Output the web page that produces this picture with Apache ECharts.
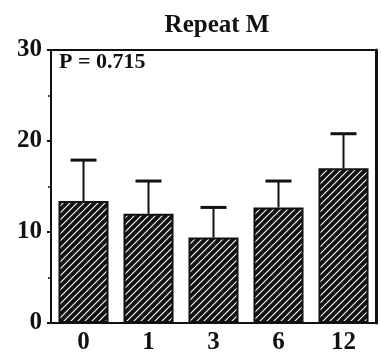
<!DOCTYPE html>
<html>
<head>
<meta charset="utf-8">
<script src="https://cdn.jsdelivr.net/npm/echarts@6/dist/echarts.min.js"></script>
<style>
  html, body { margin: 0; padding: 0; background: #fff; }
  #chart { width: 381px; height: 356px; }
</style>
</head>
<body>
<div id="chart"></div>
<script>
// Months after baseline and the mean value with its upper error limit
const months = ['0', '1', '3', '6', '12'];
const means = [13.4, 12.0, 9.4, 12.7, 17.0];
const upper = [17.9, 15.6, 12.7, 15.6, 20.8];
const yTicks = [0, 10, 20, 30];
const titleText = 'Repeat M';
const pText = 'P = 0.715';

const INK = '#111';
const SERIF = '"Liberation Serif", "Times New Roman", serif';

// Black fill with white "/" hatching
function hatch() {
  const s = 7;
  const c = document.createElement('canvas');
  c.width = s; c.height = s;
  const g = c.getContext('2d');
  g.fillStyle = INK;
  g.fillRect(0, 0, s, s);
  g.strokeStyle = '#fff';
  g.lineWidth = 1.1;
  g.beginPath();
  g.moveTo(0, s); g.lineTo(s, 0);
  g.moveTo(-1, 1); g.lineTo(1, -1);
  g.moveTo(s - 1, s + 1); g.lineTo(s + 1, s - 1);
  g.stroke();
  return c;
}

const chart = echarts.init(document.getElementById('chart'), null, { renderer: 'canvas' });

chart.setOption({
  animation: false,
  backgroundColor: '#fff',
  title: {
    text: titleText,
    left: 212,
    textAlign: 'center',
    top: 8,
    textStyle: { fontFamily: SERIF, fontWeight: 'bold', fontSize: 25, color: INK }
  },
  grid: { left: 51, right: 5, top: 50, bottom: 33 },
  xAxis: [{
    type: 'category',
    data: months,
    axisLine: { lineStyle: { color: INK, width: 2 } },
    axisTick: { show: false },
    axisLabel: { margin: 7, fontFamily: SERIF, fontWeight: 'bold', fontSize: 25, color: INK }
  }, {
    type: 'category',
    data: months,
    position: 'top',
    axisLine: { show: true, onZero: false, lineStyle: { color: INK, width: 2 } },
    axisTick: { show: false },
    axisLabel: { show: false }
  }],
  yAxis: [{
    type: 'value',
    min: yTicks[0],
    max: yTicks[yTicks.length - 1],
    interval: 10,
    splitLine: { show: false },
    axisLine: { show: true, lineStyle: { color: INK, width: 2 } },
    axisTick: { show: true, length: 4, lineStyle: { color: INK, width: 2 } },
    minorTick: { show: true, splitNumber: 2, length: 3, lineStyle: { color: INK, width: 1.5 } },
    axisLabel: { margin: 9, fontFamily: SERIF, fontWeight: 'bold', fontSize: 25, color: INK }
  }, {
    type: 'value',
    position: 'right',
    min: yTicks[0],
    max: yTicks[yTicks.length - 1],
    splitLine: { show: false },
    axisLine: { show: true, onZero: false, lineStyle: { color: INK, width: 3 } },
    axisTick: { show: false },
    axisLabel: { show: false }
  }],
  graphic: [{
    type: 'text',
    left: 59,
    top: 51,
    style: { text: pText, font: 'bold 22px ' + SERIF, fill: INK }
  }],
  series: [{
    type: 'bar',
    data: means,
    barCategoryGap: '23%',
    itemStyle: {
      color: { image: hatch(), repeat: 'repeat' },
      borderColor: INK,
      borderWidth: 2
    },
    z: 2
  }, {
    type: 'custom',
    data: months.map((m, i) => [i, means[i], upper[i]]),
    renderItem: function (params, api) {
      const base = api.coord([api.value(0), api.value(1)]);
      const top = api.coord([api.value(0), api.value(2)]);
      const half = 13;
      return {
        type: 'group',
        children: [{
          type: 'line',
          shape: { x1: base[0], y1: base[1], x2: top[0], y2: top[1] },
          style: { stroke: INK, lineWidth: 2 }
        }, {
          type: 'line',
          shape: { x1: top[0] - half, y1: top[1], x2: top[0] + half, y2: top[1] },
          style: { stroke: INK, lineWidth: 3 }
        }]
      };
    },
    z: 3
  }]
});
</script>
</body>
</html>
